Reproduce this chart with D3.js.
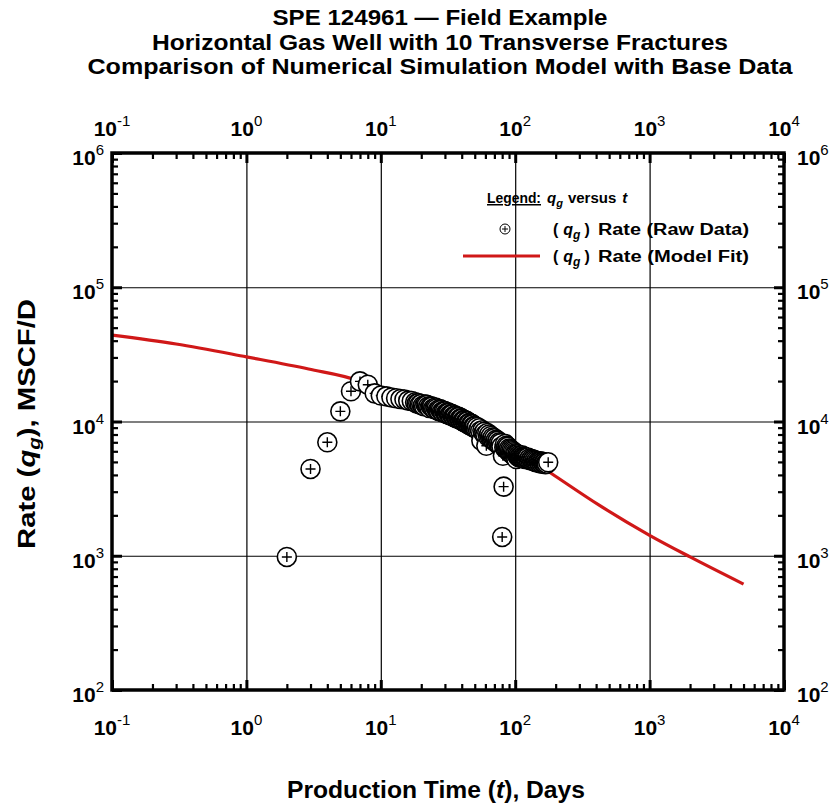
<!DOCTYPE html>
<html>
<head>
<meta charset="utf-8">
<script src="https://cdn.jsdelivr.net/npm/d3@7"></script>
<style>
  html, body { margin: 0; padding: 0; background: #fff; }
  svg { display: block; font-family: "Liberation Sans", Arial, sans-serif; }
</style>
</head>
<body>
<svg id="chart" width="839" height="804"></svg>
<script>
// ---- data ----
const titleLines = [
  "SPE 124961 \u2014 Field Example",
  "Horizontal Gas Well with 10 Transverse Fractures",
  "Comparison of Numerical Simulation Model with Base Data"
];
const titleWidths = [335, 576, 705];

// production time (days) and measured gas rate (MSCF/D)
const rawDays = [
  2, 3, 4, 5, 6, 7, 8,
  9, 10, 11, 12, 13, 14, 15, 16, 17,
  18, 18.5, 19, 19.5, 20, 20.5, 21, 21.5, 22, 22.5,
  23, 23.5, 24, 24.5, 25, 25.5, 26, 26.5, 27, 27.5,
  28, 28.5, 29, 29.5, 30, 30.5, 31, 31.5, 32, 32.5,
  33, 33.5, 34, 34.5, 35, 35.5, 36, 36.5, 37, 37.5,
  38, 38.5, 39, 39.5, 40, 40.5, 41, 41.5, 42, 42.5,
  43, 43.5, 44, 44.5, 45, 45.5, 46, 46.5, 47, 47.5,
  48, 48.5, 49, 49.5, 50,
  51, 52, 53, 54, 55, 56, 57, 58, 59, 60,
  61, 62, 63, 64, 65, 66, 67, 68, 69, 70,
  71, 72, 73, 74, 75, 76, 77, 78, 79, 80,
  81, 82, 83, 84, 85, 86, 87, 88, 89, 90,
  91, 92, 93, 94, 95, 96, 97, 98, 99, 100,
  101, 102, 103, 104, 105, 106, 107, 108, 109, 110,
  111, 112, 113, 114, 115, 116, 117, 118, 119, 120,
  122, 124, 126, 128, 130, 132, 134, 136, 138, 140,
  142, 144, 146, 148, 150, 152, 154, 156, 158, 160,
  162, 164, 166, 168, 170, 172, 176
];
const rawRates = [
  980, 4430, 7000, 11900, 16800, 19900, 18800,
  16200, 15600, 15400, 15100, 14900, 14700, 14600, 14300, 14200,
  13900, 13600, 13700, 13400, 13500, 13100, 13000, 13400, 13300, 12900,
  12600, 13000, 12900, 12500, 12400, 12700, 12500, 12100, 12000, 12400,
  12200, 11800, 11700, 12000, 11900, 11500, 11400, 11700, 11600, 11200,
  11100, 11400, 11300, 10900, 10800, 11100, 11000, 10600, 10600, 10900,
  10800, 10400, 10300, 10600, 10500, 10100, 10000, 10300, 10200, 9800,
  9800, 10100, 10000, 9600, 9500, 9800, 9700, 9300, 9300, 9600,
  9500, 9100, 9100, 9300, 9200,
  8900, 9100, 8600, 8900, 8500, 7200, 8600, 8200, 8400, 8000,
  6600, 8200, 7700, 8000, 7600, 7800, 7400, 7600, 7200, 7500,
  7100, 7300, 6900, 7200, 6800, 7000, 6600, 6900, 6500, 1380,
  5560, 3270, 6400, 6800, 6300, 6600, 6200, 6500, 6000, 6300,
  5900, 6200, 5800, 6100, 5700, 6000, 5600, 5900, 5600, 5800,
  5700, 5250, 5600, 5700, 5500, 5600, 5400, 5500, 5400, 5500,
  5400, 5600, 5450, 5350, 5500, 5300, 5450, 5400, 5250, 5350,
  5300, 5400, 5200, 5300, 5150, 5250, 5100, 5200, 5050, 5150,
  5000, 5100, 4950, 5050, 5000, 4900, 5050, 4950, 4850, 5000,
  4900, 4850, 4950, 4800, 4900, 4850, 4970
];

// numerical simulation model
const modelDays  = [0.1, 0.3, 1, 2.9, 6.8, 10, 20, 30, 50, 100, 186, 427, 1000, 2000, 5000];
const modelRates = [44000, 37800, 30300, 24600, 20100, 16900, 13500, 11800, 9200, 6200, 4100, 2360, 1420, 980, 615];

// axis decades (exponents)
const xExponents = [-1, 0, 1, 2, 3, 4];
const yExponents = [2, 3, 4, 5, 6];

// ---- layout ----
const svg = d3.select("#chart");
const plotL = 112, plotR = 784, plotT = 153, plotB = 690;
const red = "#d01818";

const x = d3.scaleLog().domain([0.1, 1e4]).range([plotL, plotR]);
const y = d3.scaleLog().domain([1e2, 1e6]).range([plotB, plotT]);

const xMajor = xExponents.map(e => Math.pow(10, e));
const yMajor = yExponents.map(e => Math.pow(10, e));
const minorOf = majors => {
  const out = [];
  majors.slice(0, -1).forEach(m => { for (let k = 2; k <= 9; k++) out.push(m * k); });
  return out;
};
const xMinor = minorOf(xMajor);
const yMinor = minorOf(yMajor);

// ---- title ----
svg.append("g").selectAll("text").data(titleLines).join("text")
  .attr("x", 440).attr("y", (d, i) => 25 + i * 24.5)
  .attr("text-anchor", "middle")
  .attr("font-size", 22).attr("font-weight", "bold")
  .attr("textLength", (d, i) => titleWidths[i]).attr("lengthAdjust", "spacingAndGlyphs")
  .text(d => d);

// ---- grid ----
const grid = svg.append("g").attr("class", "grid");
grid.append("g").attr("transform", `translate(0,${plotB})`)
  .call(d3.axisBottom(x).tickValues(xMajor.slice(1, -1)).tickSize(-(plotB - plotT)).tickFormat(""));
grid.append("g").attr("transform", `translate(${plotL},0)`)
  .call(d3.axisLeft(y).tickValues(yMajor.slice(1, -1)).tickSize(-(plotR - plotL)).tickFormat(""));
grid.selectAll(".domain").remove();
grid.selectAll("line").attr("stroke", "#000").attr("stroke-width", 1.2);

// ---- inward ticks on all four sides ----
function ticks(axisGen, pos, values, size, width) {
  const g = svg.append("g").attr("transform", pos)
    .call(axisGen.tickValues(values).tickSize(size).tickFormat(""));
  g.select(".domain").remove();
  g.selectAll("line").attr("stroke", "#000").attr("stroke-width", width);
  return g;
}
ticks(d3.axisBottom(x), `translate(0,${plotB})`, xMinor, -6, 2.2);
ticks(d3.axisBottom(x), `translate(0,${plotB})`, xMajor, -10, 3);
ticks(d3.axisTop(x), `translate(0,${plotT})`, xMinor, -6, 2.2);
ticks(d3.axisTop(x), `translate(0,${plotT})`, xMajor, -10, 3);
ticks(d3.axisLeft(y), `translate(${plotL},0)`, yMinor, -6, 2.2);
ticks(d3.axisLeft(y), `translate(${plotL},0)`, yMajor, -10, 3);
ticks(d3.axisRight(y), `translate(${plotR},0)`, yMinor, -6, 2.2);
ticks(d3.axisRight(y), `translate(${plotR},0)`, yMajor, -10, 3);

// ---- power-of-ten tick labels ----
function powLabel(g, e, anchor) {
  const t = g.append("text").attr("text-anchor", anchor)
    .attr("font-size", 21).attr("font-weight", "bold");
  t.append("tspan").text("10");
  t.append("tspan").attr("dy", -10).attr("font-size", 15).attr("font-weight", "normal").text(e);
  return t;
}
xExponents.forEach(e => {
  const v = Math.pow(10, e);
  powLabel(svg, e, "middle").attr("x", x(v)).attr("y", 735);
  powLabel(svg, e, "middle").attr("x", x(v)).attr("y", 136);
});
yExponents.forEach(e => {
  const v = Math.pow(10, e);
  powLabel(svg, e, "end").attr("x", 104).attr("y", y(v) + 12);
  powLabel(svg, e, "start").attr("x", 797).attr("y", y(v) + 12);
});

// ---- model curve ----
const model = modelDays.map((d, i) => ({ t: d, q: modelRates[i] }));
svg.append("path").datum(model)
  .attr("fill", "none").attr("stroke", red).attr("stroke-width", 3.2)
  .attr("d", d3.line().x(d => x(d.t)).y(d => y(d.q)).curve(d3.curveMonotoneX));

// ---- raw data markers (circle with plus) ----
const raw = rawDays.map((d, i) => ({ t: d, q: rawRates[i] }));
const r = 9.5, p = 5;
const mk = svg.append("g").selectAll("g").data(raw).join("g")
  .attr("transform", d => `translate(${x(d.t)},${y(d.q)})`);
mk.append("circle").attr("r", r).attr("fill", "#fff").attr("stroke", "#000").attr("stroke-width", 1.6);
mk.append("path").attr("d", `M${-p},0H${p}M0,${-p}V${p}`).attr("stroke", "#000").attr("stroke-width", 1.4);

// ---- frame ----
svg.append("rect").attr("x", plotL).attr("y", plotT)
  .attr("width", plotR - plotL).attr("height", plotB - plotT)
  .attr("fill", "none").attr("stroke", "#000").attr("stroke-width", 3.5);

// ---- legend ----
const lg = svg.append("g").attr("font-weight", "bold").attr("font-size", 15);
lg.append("text").attr("x", 487).attr("y", 203).attr("text-decoration", "underline")
  .attr("textLength", 54).attr("lengthAdjust", "spacingAndGlyphs").text("Legend:");
const lh = lg.append("text").attr("x", 547).attr("y", 203);
lh.append("tspan").attr("font-style", "italic").text("q");
lh.append("tspan").attr("font-style", "italic").attr("font-size", 11).attr("dy", 4).text("g");
lh.append("tspan").attr("dy", -4).attr("dx", 5).text("versus");
lh.append("tspan").attr("dx", 6).attr("font-style", "italic").text("t");

const sym = lg.append("g").attr("transform", "translate(505,229)");
sym.append("circle").attr("r", 5).attr("fill", "#fff").attr("stroke", "#000").attr("stroke-width", 1);
sym.append("path").attr("d", "M-3,0H3M0,-3V3").attr("stroke", "#000").attr("stroke-width", 1);

lg.append("line").attr("x1", 463).attr("x2", 540).attr("y1", 256).attr("y2", 256)
  .attr("stroke", red).attr("stroke-width", 3.2);

function qLabel(yy, txt) {
  const t = lg.append("text").attr("x", 553).attr("y", yy).attr("font-size", 16);
  t.append("tspan").text("(");
  t.append("tspan").attr("dx", 5).attr("font-style", "italic").text("q");
  t.append("tspan").attr("font-style", "italic").attr("font-size", 12).attr("dy", 4).text("g");
  t.append("tspan").attr("dy", -4).attr("dx", 4).text(")");
  lg.append("text").attr("x", 598).attr("y", yy).attr("font-size", 16)
    .attr("textLength", 151).attr("lengthAdjust", "spacingAndGlyphs").text(txt);
}
qLabel(235, "Rate (Raw Data)");
qLabel(262, "Rate (Model Fit)");

// ---- axis titles ----
const xt = svg.append("text").attr("x", 436).attr("y", 798)
  .attr("text-anchor", "middle").attr("font-size", 23).attr("font-weight", "bold")
  .attr("textLength", 298).attr("lengthAdjust", "spacingAndGlyphs");
xt.append("tspan").text("Production Time (");
xt.append("tspan").attr("font-style", "italic").text("t");
xt.append("tspan").text("), Days");

const yt = svg.append("text").attr("transform", "translate(35,424) rotate(-90)")
  .attr("text-anchor", "middle").attr("font-size", 23).attr("font-weight", "bold")
  .attr("textLength", 250).attr("lengthAdjust", "spacingAndGlyphs");
yt.append("tspan").text("Rate (");
yt.append("tspan").attr("font-style", "italic").text("q");
yt.append("tspan").attr("font-style", "italic").attr("font-size", 16).attr("dy", 5).text("g");
yt.append("tspan").attr("dy", -5).text("), MSCF/D");
</script>
</body>
</html>
